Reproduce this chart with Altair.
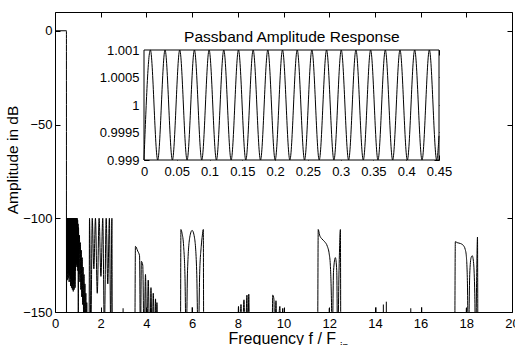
import altair as alt
import pandas as pd

# ---------------- data ----------------
# main response (frequency f/Fin, amplitude dB); values below -150 are off-scale nulls
main_f = [
    0.0, 0.5, 0.502,
    0.51, 0.52, 0.53, 0.54, 0.55, 0.56, 0.57, 0.58, 0.59, 0.60, 0.61, 0.62, 0.63, 0.64,
    0.65, 0.66, 0.67, 0.68, 0.69, 0.70, 0.71, 0.72, 0.73, 0.74, 0.75, 0.76, 0.77, 0.78,
    0.79, 0.80, 0.81, 0.82, 0.83, 0.84, 0.85, 0.86, 0.87, 0.88, 0.89, 0.90, 0.91, 0.92,
    0.93, 0.94, 0.95, 0.96, 0.97,
    0.98, 0.99, 1.00, 1.01, 1.02, 1.03, 1.05, 1.07, 1.09, 1.11, 1.13, 1.15, 1.17, 1.19,
    1.21, 1.23, 1.25, 1.27, 1.29, 1.31, 1.33, 1.35, 1.37, 1.39, 1.41, 1.43, 1.45,
    1.49, 1.51, 1.57, 1.63, 1.70, 1.77, 1.85, 1.93, 2.01, 2.09, 2.16, 2.24, 2.31, 2.38,
    2.44, 2.49, 2.51,
    3.49, 3.52, 3.62, 3.70, 3.74, 3.78, 3.84, 3.90, 3.96, 4.02, 4.08, 4.15, 4.20, 4.25,
    4.30, 4.36, 4.40, 4.43, 4.46, 4.50,
    5.49, 5.51, 5.56, 5.63, 5.69, 5.74, 5.80, 5.90, 6.00, 6.10, 6.20, 6.27, 6.33, 6.40,
    6.45, 6.49, 6.51,
    7.99, 8.03, 8.07, 8.14, 8.19, 8.27, 8.33, 8.40, 8.44, 8.48, 8.52,
    9.49, 9.53, 9.58, 9.62, 9.67, 9.72, 9.84, 9.89, 9.97, 10.01,
    11.49, 11.52, 11.58, 11.68, 11.80, 11.92, 12.00, 12.05, 12.10, 12.13, 12.19, 12.27,
    12.33, 12.37, 12.43, 12.49, 12.51,
    17.49, 17.52, 17.60, 17.75, 17.87, 17.95, 18.00, 18.05, 18.09, 18.15, 18.21, 18.26,
    18.32, 18.37, 18.41, 18.45, 18.49, 18.51, 20.0,
]
main_db = [
    0, 0, -170,
    -100, -128, -100, -133, -100, -127, -100, -132, -100, -129, -100, -134, -100, -130,
    -100, -131, -100, -136, -100, -130, -100, -137, -100, -132, -100, -138, -100, -134,
    -100, -139, -100, -135, -100, -138, -100, -133, -100, -137, -100, -128, -100, -126,
    -100, -124, -100, -125, -100,
    -126, -101, -128, -103, -160, -105, -130, -109, -134, -113, -138, -117, -142, -121,
    -146, -126, -151, -130, -155, -135, -160, -140, -165, -145, -170, -150, -170,
    -170, -100, -160, -100, -127, -100, -140, -100, -131, -100, -160, -100, -135, -100,
    -160, -100, -170,
    -170, -115, -117.5, -120, -170, -123, -125, -170, -130, -170, -133, -170, -137, -170,
    -140, -170, -143, -170, -145, -170,
    -170, -106, -108, -115, -132, -170, -128, -110, -106.5, -110, -128, -170, -130, -115,
    -109, -106, -170,
    -170, -147, -170, -146, -170, -143.5, -170, -141, -170, -140.5, -170,
    -170, -141, -143, -170, -144, -170, -147, -170, -148, -170,
    -170, -106, -109, -111, -112.5, -115, -119, -125, -145, -170, -128, -121,
    -128, -170, -128, -106, -170,
    -170, -112.5, -113, -113.5, -114.5, -116.5, -120, -135, -170, -130, -121, -120,
    -124, -140, -170, -135, -110, -170, -170,
]
# small isolated spurs rising from the bottom of the plot
spur_f = [2.98, 6.0, 12.0, 14.05, 14.37, 14.5, 15.57, 16.05, 18.0]
spur_db = [-148, -147.5, -148, -147.5, -146, -144.5, -148, -147.5, -148]

# passband ripple extrema (inset)
pb_f = [
    0.0, 0.0097, 0.0209, 0.0321, 0.0433, 0.0545, 0.0657, 0.0769, 0.0881, 0.0993, 0.1105,
    0.1217, 0.1329, 0.1441, 0.1553, 0.1665, 0.1777, 0.1889, 0.2001, 0.2113, 0.2225,
    0.2337, 0.2449, 0.2561, 0.2673, 0.2785, 0.2897, 0.3009, 0.3121, 0.3233, 0.3345,
    0.3457, 0.3569, 0.3681, 0.3793, 0.3905, 0.4017, 0.4129, 0.4241, 0.4353, 0.4465, 0.45,
]
pb_amp = [
    0.999, 1.001, 0.999, 1.001, 0.999, 1.001, 0.999, 1.001, 0.999, 1.001, 0.999,
    1.001, 0.999, 1.001, 0.999, 1.001, 0.999, 1.001, 0.999, 1.001, 0.999,
    1.001, 0.999, 1.001, 0.999, 1.001, 0.999, 1.001, 0.999, 1.001, 0.999,
    1.001, 0.999, 1.001, 0.999, 1.001, 0.999, 1.001, 0.999, 1.001, 0.999, 0.99944,
]

main_xticks = [0, 2, 4, 6, 8, 10, 12, 14, 16, 18, 20]
main_yticks = [0, -50, -100, -150]
inset_xticks = [0, 0.05, 0.1, 0.15, 0.2, 0.25, 0.3, 0.35, 0.4, 0.45]
inset_yticks = [0.999, 0.9995, 1, 1.0005, 1.001]

# ---------------- chart ----------------
FONT = "Liberation Sans"
W, H = 457, 300

xs_main = alt.Scale(domain=[0, 20], nice=False, zero=False)
ys_main = alt.Scale(domain=[-150, 10], nice=False, zero=False)
xs_in = alt.Scale(domain=[0, 0.45], range=[89, 384], nice=False, zero=False)
ys_in = alt.Scale(domain=[0.999, 1.001], range=[148, 38], nice=False, zero=False)

main_df = pd.DataFrame({"f": main_f, "db": main_db})
spur_df = pd.DataFrame({"f": spur_f, "db": spur_db})
pb_df = pd.DataFrame({"f": pb_f, "a": pb_amp})
rect_df = pd.DataFrame({"x0": [inset_xticks[0]], "x1": [inset_xticks[-1]],
                        "y0": [inset_yticks[0]], "y1": [inset_yticks[-1]]})
dummy_main = pd.DataFrame({"f": [0.0], "db": [0.0]})
dummy_in = pd.DataFrame({"f": [0.0], "a": [1.0]})

# main curve + labelled axes
layer_a = alt.Chart(main_df).mark_line(
    color="black", strokeWidth=1, interpolate="monotone", clip=True
).encode(
    x=alt.X("f:Q", scale=xs_main, axis=alt.Axis(
        orient="bottom", values=main_xticks, ticks=False, labelPadding=5,
        title="Frequency f / F", titleFontSize=16, titleX=173, titleY=31,
        titleAlign="left", titleBaseline="alphabetic")),
    y=alt.Y("db:Q", scale=ys_main, axis=alt.Axis(
        orient="left", values=main_yticks, ticks=False, labelPadding=3,
        title="Amplitude in dB", titleFontSize=15.5, titleX=-38, titleY=147.5,
        titleAngle=270, titleAlign="center", titleBaseline="alphabetic")),
)

# spurs + inward ticks bottom/left
layer_b = alt.Chart(spur_df).mark_rule(color="black", strokeWidth=1).encode(
    x=alt.X("f:Q", scale=xs_main, axis=alt.Axis(
        orient="bottom", offset=-5, tickSize=5, labels=False, values=main_xticks,
        title="in", titleFontSize=11, titleX=284.5, titleY=42,
        titleAlign="left", titleBaseline="alphabetic")),
    y=alt.Y("db:Q", scale=ys_main, axis=alt.Axis(
        orient="left", offset=-5, tickSize=5, labels=False, values=main_yticks, title=None)),
    y2=alt.datum(-150),
)

# inward ticks top/right
layer_c = alt.Chart(dummy_main).mark_point(opacity=0).encode(
    x=alt.X("f:Q", scale=xs_main, axis=alt.Axis(
        orient="top", offset=-5, tickSize=5, labels=False, values=main_xticks, title=None)),
    y=alt.Y("db:Q", scale=ys_main, axis=alt.Axis(
        orient="right", offset=-5, tickSize=5, labels=False, values=main_yticks, title=None)),
)

# inset frame + inset labels
layer_d = alt.Chart(rect_df).mark_rect(fill="white", stroke="black", strokeWidth=1).encode(
    x=alt.X("x0:Q", scale=xs_in, axis=alt.Axis(
        orient="bottom", offset=-152, ticks=False, labelPadding=5,
        values=inset_xticks, format=".2~f", title=None)),
    x2="x1:Q",
    y=alt.Y("y0:Q", scale=ys_in, axis=alt.Axis(
        orient="left", offset=-89, ticks=False, labelPadding=5,
        values=inset_yticks, format=".4~f", title=None)),
    y2="y1:Q",
)

# inset ripple curve + inward ticks bottom/left
layer_e = alt.Chart(pb_df).mark_line(color="black", strokeWidth=1, interpolate="monotone").encode(
    x=alt.X("f:Q", scale=xs_in, axis=alt.Axis(
        orient="bottom", offset=-157, tickSize=5, labels=False, values=inset_xticks, title=None)),
    y=alt.Y("a:Q", scale=ys_in, axis=alt.Axis(
        orient="left", offset=-94, tickSize=5, labels=False, values=inset_yticks, title=None)),
)

# inset inward ticks top/right + inset title
layer_f = alt.Chart(dummy_in).mark_point(opacity=0).encode(
    x=alt.X("f:Q", scale=xs_in, axis=alt.Axis(
        orient="top", offset=-43, tickSize=5, labels=False, values=inset_xticks,
        title="Passband Amplitude Response", titleFontSize=15.5, titleX=236.3, titleY=-14,
        titleAlign="center", titleBaseline="alphabetic")),
    y=alt.Y("a:Q", scale=ys_in, axis=alt.Axis(
        orient="right", offset=-78, tickSize=5, labels=False, values=inset_yticks, title=None)),
)

chart = alt.layer(layer_a, layer_b, layer_c, layer_d, layer_e, layer_f).resolve_scale(
    x="independent", y="independent"
).resolve_axis(
    x="independent", y="independent"
).properties(
    width=W, height=H,
    autosize=alt.AutoSizeParams(type="none"),
    padding={"left": 55, "top": 12, "right": 3, "bottom": 33},
    background="white",
).configure_view(
    stroke="black", strokeWidth=1
).configure_axis(
    grid=False, domain=False, labelFont=FONT, labelFontSize=13, labelColor="black",
    tickColor="black", tickWidth=1, titleFont=FONT, titleColor="black",
    titleFontWeight="normal", labelFlush=False, labelOverlap=False, zindex=1,
)

chart.save("out.html", embed_options={"renderer": "svg", "actions": False})
